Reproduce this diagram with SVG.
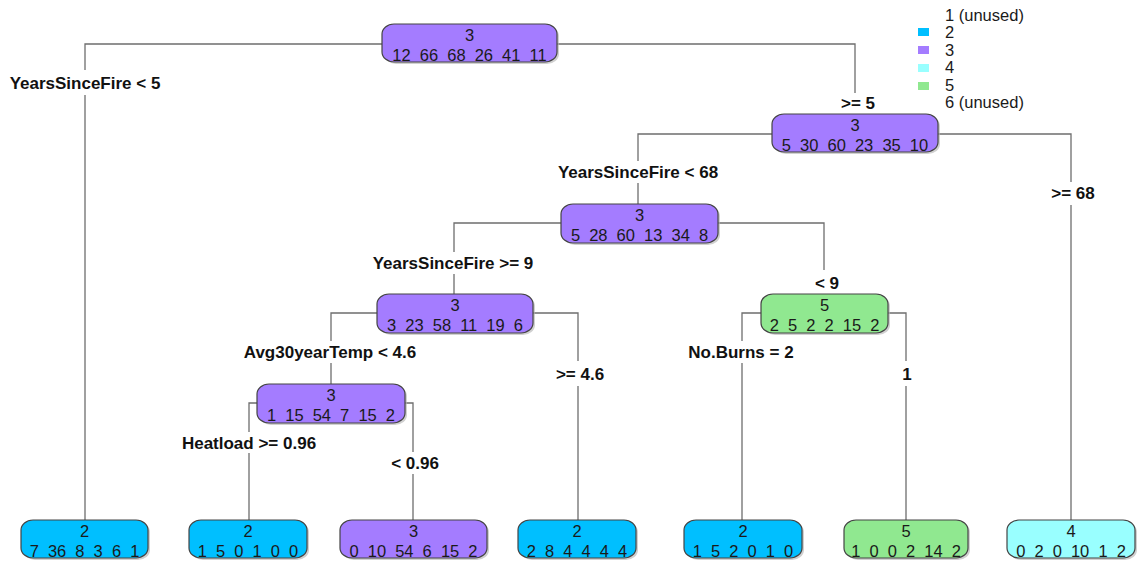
<svg xmlns="http://www.w3.org/2000/svg" width="1138" height="563" viewBox="0 0 1138 563">
<defs>
<style>
.bg{fill:#ffffff}
.box{stroke:#444444;stroke-width:1.2}
.sh{fill:#b0b0b0;opacity:0.6}
.c2{fill:#00BFFF}
.c3{fill:#A47CFF}
.c4{fill:#99FFFF}
.c5{fill:#90E890}
.cls{font-family:"Liberation Sans",Arial,sans-serif;font-size:16.5px;fill:#1a1a1a;text-anchor:middle}
.num{font-family:"Liberation Sans",Arial,sans-serif;font-size:16.5px;fill:#1a1a1a;text-anchor:middle;word-spacing:4.5px}
.lab{font-family:"Liberation Sans",Arial,sans-serif;font-size:17px;font-weight:bold;fill:#111111;text-anchor:middle}
.leg{font-family:"Liberation Sans",Arial,sans-serif;font-size:16.5px;fill:#1a1a1a}
.ln{stroke:#6e6e6e;stroke-width:1.3;fill:none}
</style>
</defs>
<rect class="bg" x="0" y="0" width="1138" height="563"/>

<g id="legend">
<text class="leg" x="945" y="21">1 (unused)</text>
<rect class="c2" x="918" y="28" width="11" height="8"/>
<text class="leg" x="945" y="38">2</text>
<rect class="c3" x="918" y="46" width="11" height="8"/>
<text class="leg" x="945" y="56">3</text>
<rect class="c4" x="918" y="64" width="11" height="8"/>
<text class="leg" x="945" y="73">4</text>
<rect class="c5" x="918" y="82" width="11" height="8"/>
<text class="leg" x="945" y="91">5</text>
<text class="leg" x="945" y="108">6 (unused)</text>
</g>

<g id="connectors">
<path class="ln" d="M382 44H85V70M85 95V520"/>
<path class="ln" d="M557 44H855V93"/>
<path class="ln" d="M772 134H638V161M638 183V204"/>
<path class="ln" d="M938 134H1071V182M1071 205V520"/>
<path class="ln" d="M561 223H454V252M454 274V294"/>
<path class="ln" d="M718 223H824V270"/>
<path class="ln" d="M377 313H331V341M331 363V384"/>
<path class="ln" d="M533 313H578V361M578 386V520"/>
<path class="ln" d="M761 313H742V341M742 363V520"/>
<path class="ln" d="M888 313H906V361M906 386V520"/>
<path class="ln" d="M257 403H249V432M249 453V520"/>
<path class="ln" d="M405 403H413V452M413 474V520"/>
</g>

<g id="labels">
<text class="lab" x="85" y="89">YearsSinceFire &lt; 5</text>
<text class="lab" x="858" y="109">&gt;= 5</text>
<text class="lab" x="638" y="178">YearsSinceFire &lt; 68</text>
<text class="lab" x="1073" y="199">&gt;= 68</text>
<text class="lab" x="453" y="269">YearsSinceFire &gt;= 9</text>
<text class="lab" x="827" y="289">&lt; 9</text>
<text class="lab" x="330" y="358">Avg30yearTemp &lt; 4.6</text>
<text class="lab" x="580" y="380">&gt;= 4.6</text>
<text class="lab" x="741" y="358">No.Burns = 2</text>
<text class="lab" x="907" y="380">1</text>
<text class="lab" x="249" y="449">Heatload &gt;= 0.96</text>
<text class="lab" x="415" y="469">&lt; 0.96</text>
</g>

<g id="node1">
<rect class="sh" x="384" y="26" width="175" height="38" rx="12" ry="10"/>
<rect class="box c3" x="382" y="24" width="175" height="38" rx="12" ry="10"/>
<text class="cls" x="469.5" y="41">3</text>
<text class="num" x="469.5" y="61">12 66 68 26 41 11</text>
</g>

<g id="node2">
<rect class="sh" x="774" y="116" width="166" height="38" rx="12" ry="10"/>
<rect class="box c3" x="772" y="114" width="166" height="38" rx="12" ry="10"/>
<text class="cls" x="855" y="131">3</text>
<text class="num" x="855" y="151">5 30 60 23 35 10</text>
</g>

<g id="node3">
<rect class="sh" x="563" y="206" width="157" height="39" rx="12" ry="10"/>
<rect class="box c3" x="561" y="204" width="157" height="39" rx="12" ry="10"/>
<text class="cls" x="639.5" y="221">3</text>
<text class="num" x="639.5" y="241">5 28 60 13 34 8</text>
</g>

<g id="node4">
<rect class="sh" x="379" y="296" width="156" height="39" rx="12" ry="10"/>
<rect class="box c3" x="377" y="294" width="156" height="39" rx="12" ry="10"/>
<text class="cls" x="455" y="311">3</text>
<text class="num" x="455" y="331">3 23 58 11 19 6</text>
</g>

<g id="node5">
<rect class="sh" x="763" y="296" width="127" height="39" rx="12" ry="10"/>
<rect class="box c5" x="761" y="294" width="127" height="39" rx="12" ry="10"/>
<text class="cls" x="824.5" y="311">5</text>
<text class="num" x="824.5" y="331">2 5 2 2 15 2</text>
</g>

<g id="node6">
<rect class="sh" x="259" y="386" width="148" height="39" rx="12" ry="10"/>
<rect class="box c3" x="257" y="384" width="148" height="39" rx="12" ry="10"/>
<text class="cls" x="331" y="401">3</text>
<text class="num" x="331" y="421">1 15 54 7 15 2</text>
</g>

<g id="leaf1">
<rect class="sh" x="23" y="522" width="127" height="38" rx="12" ry="10"/>
<rect class="box c2" x="21" y="520" width="127" height="38" rx="12" ry="10"/>
<text class="cls" x="84.5" y="537">2</text>
<text class="num" x="84.5" y="557">7 36 8 3 6 1</text>
</g>

<g id="leaf2">
<rect class="sh" x="191" y="522" width="118" height="38" rx="12" ry="10"/>
<rect class="box c2" x="189" y="520" width="118" height="38" rx="12" ry="10"/>
<text class="cls" x="248" y="537">2</text>
<text class="num" x="248" y="557">1 5 0 1 0 0</text>
</g>

<g id="leaf3">
<rect class="sh" x="342" y="522" width="147" height="38" rx="12" ry="10"/>
<rect class="box c3" x="340" y="520" width="147" height="38" rx="12" ry="10"/>
<text class="cls" x="413.5" y="537">3</text>
<text class="num" x="413.5" y="557">0 10 54 6 15 2</text>
</g>

<g id="leaf4">
<rect class="sh" x="520" y="522" width="118" height="38" rx="12" ry="10"/>
<rect class="box c2" x="518" y="520" width="118" height="38" rx="12" ry="10"/>
<text class="cls" x="577" y="537">2</text>
<text class="num" x="577" y="557">2 8 4 4 4 4</text>
</g>

<g id="leaf5">
<rect class="sh" x="686" y="522" width="118" height="38" rx="12" ry="10"/>
<rect class="box c2" x="684" y="520" width="118" height="38" rx="12" ry="10"/>
<text class="cls" x="743" y="537">2</text>
<text class="num" x="743" y="557">1 5 2 0 1 0</text>
</g>

<g id="leaf6">
<rect class="sh" x="846" y="522" width="124" height="38" rx="12" ry="10"/>
<rect class="box c5" x="844" y="520" width="124" height="38" rx="12" ry="10"/>
<text class="cls" x="906" y="537">5</text>
<text class="num" x="906" y="557">1 0 0 2 14 2</text>
</g>

<g id="leaf7">
<rect class="sh" x="1009" y="522" width="128" height="38" rx="12" ry="10"/>
<rect class="box c4" x="1007" y="520" width="128" height="38" rx="12" ry="10"/>
<text class="cls" x="1071" y="537">4</text>
<text class="num" x="1071" y="557">0 2 0 10 1 2</text>
</g>
</svg>
